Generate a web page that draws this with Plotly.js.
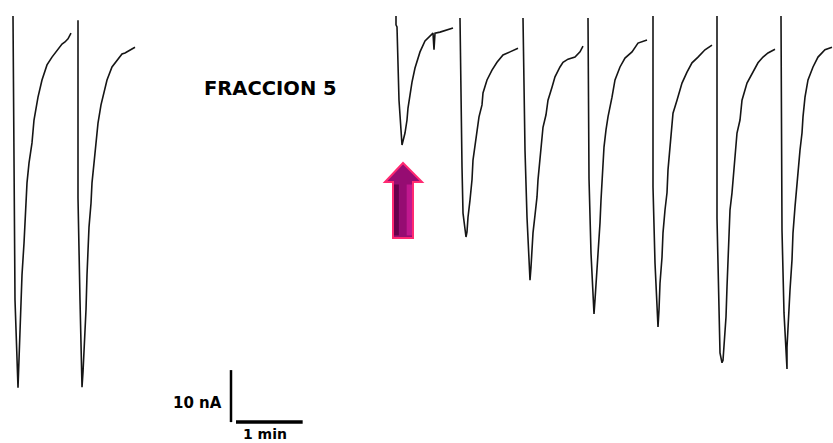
<!DOCTYPE html>
<html>
<head>
<meta charset="utf-8">
<script src="https://cdn.plot.ly/plotly-3.0.1.min.js"></script>
<style>html,body{margin:0;padding:0;background:#fff;}#chart{width:833px;height:443px;}</style>
</head>
<body>
<div id="chart"></div>
<script>
// Time in seconds, current in nA (baseline = 0, inward current negative)
const pulse1T = [11.7, 12.6, 13.5, 16.2, 17.1, 18.9, 19.8, 21.6, 23.4, 24.3, 26.1, 28.8, 30.6, 34.2, 37.8, 42.3, 46.8, 52.2, 55.8, 58.5, 61.2, 63.9];
const pulse1I = [0, -34.4, -54.6, -71.5, -66.2, -56.5, -49.8, -43.7, -37.3, -32.1, -28.3, -24.4, -20.0, -15.6, -12.3, -9.4, -7.9, -6.5, -5.4, -5.0, -4.4, -3.3];

const pulse2T = [70.2, 70.2, 72.0, 73.8, 74.7, 75.6, 77.4, 78.3, 79.2, 80.1, 81.9, 82.8, 84.6, 86.4, 88.2, 90.9, 92.7, 96.3, 100.8, 105.3, 109.8, 112.5, 117.0, 121.5];
const pulse2I = [-0.8, -35.0, -54.6, -71.4, -68.5, -65.2, -56.5, -49.8, -45.0, -40.6, -36.0, -32.1, -28.3, -24.4, -20.6, -17.1, -15.6, -12.3, -9.8, -8.5, -7.3, -7.1, -6.5, -6.0];

const pulse3T = [356.4, 356.4, 357.3, 359.1, 361.8, 362.7, 364.5, 366.3, 367.2, 369.0, 370.8, 373.5, 378.0, 382.5, 388.8, 389.7, 390.6, 391.5, 396.0, 402.3, 407.7];
const pulse3I = [0, -1.7, -2.1, -16.2, -24.8, -23.9, -22.5, -20.0, -17.7, -15.2, -12.7, -10.0, -6.9, -4.8, -3.5, -3.3, -6.5, -3.3, -3.1, -2.7, -2.3];

const pulse4T = [414.0, 414.9, 415.8, 416.7, 419.4, 420.3, 421.2, 423.0, 424.8, 425.7, 427.5, 429.3, 431.1, 433.8, 434.7, 438.3, 442.8, 447.3, 452.7, 459.0, 466.2];
const pulse4I = [-0.4, -18.1, -29.0, -37.9, -42.5, -41.5, -38.7, -35.4, -31.5, -27.7, -25.2, -22.5, -19.4, -17.1, -14.8, -12.3, -10.4, -8.9, -7.5, -6.9, -6.2];

const pulse5T = [470.7, 472.5, 474.3, 476.1, 477.0, 477.9, 478.8, 479.7, 481.5, 483.3, 484.2, 486.0, 487.8, 488.7, 491.4, 493.2, 496.8, 499.5, 504.0, 506.7, 511.2, 517.5, 522.0, 524.7];
const pulse5I = [-0.4, -25.8, -38.7, -48.3, -50.8, -48.3, -45.0, -41.7, -38.3, -34.8, -31.5, -27.7, -24.4, -21.4, -19.0, -16.2, -13.7, -11.7, -9.8, -8.9, -8.3, -7.9, -6.9, -5.8];

const pulse6T = [529.2, 530.1, 531.9, 534.6, 535.5, 537.3, 538.2, 540.0, 540.9, 542.7, 543.6, 545.4, 547.2, 550.8, 553.5, 558.0, 562.5, 568.8, 574.2, 582.3];
const pulse6I = [-0.4, -31.2, -45.6, -57.3, -54.6, -49.4, -45.0, -39.8, -35.4, -29.0, -25.2, -21.9, -19.4, -15.6, -12.3, -9.8, -8.1, -6.9, -5.2, -4.6];

const pulse7T = [587.7, 587.7, 589.5, 592.2, 593.1, 594.0, 595.8, 596.7, 598.5, 600.3, 601.2, 603.0, 604.8, 605.7, 609.3, 613.8, 618.3, 622.8, 628.2, 634.5, 640.8];
const pulse7I = [0, -32.9, -47.5, -59.8, -56.5, -51.4, -46.4, -41.7, -37.3, -34.0, -29.6, -25.8, -20.6, -18.7, -16.2, -12.9, -10.8, -9.0, -7.9, -6.5, -5.6];

const pulse8T = [645.3, 645.3, 648.0, 649.8, 650.7, 651.6, 653.4, 654.3, 655.2, 656.1, 657.0, 658.8, 660.6, 662.4, 663.3, 666.0, 667.8, 672.3, 676.8, 682.2, 686.7, 691.2, 697.5];
const pulse8I = [0, -38.9, -64.8, -66.7, -66.2, -62.9, -57.9, -52.1, -46.9, -41.7, -37.3, -34.0, -29.0, -25.8, -22.5, -20.0, -16.2, -12.9, -11.0, -9.0, -7.9, -7.1, -6.4];

const pulse9T = [702.9, 703.8, 705.6, 708.3, 708.3, 709.2, 711.0, 712.8, 713.7, 715.5, 717.3, 718.2, 720.0, 721.8, 722.7, 724.5, 727.2, 731.7, 736.2, 742.5, 748.8];
const pulse9I = [0, -41.2, -57.1, -67.9, -63.7, -59.0, -52.7, -46.9, -41.7, -36.7, -32.1, -29.0, -25.8, -22.5, -19.4, -15.6, -12.3, -9.8, -7.9, -6.5, -6.0];

// Scale bar sizes
const scaleCurrentNA = 10;   // nA
const scaleTimeS = 60;       // s (1 min)
const labels = {title: 'FRACCION 5', current: '10 nA', time: '1 min'};

const pulses = [
  [pulse1T, pulse1I], [pulse2T, pulse2I], [pulse3T, pulse3I],
  [pulse4T, pulse4I], [pulse5T, pulse5I], [pulse6T, pulse6I],
  [pulse7T, pulse7I], [pulse8T, pulse8I], [pulse9T, pulse9I]
];

const traces = pulses.map(p => ({
  x: p[0], y: p[1], type: 'scatter', mode: 'lines',
  line: {color: '#151515', width: 1.6}, hoverinfo: 'skip'
}));

// scale bar placement (layout)
const sbX = 207.9, sbY = -78.1;
traces.push({x: [sbX, sbX], y: [sbY + scaleCurrentNA, sbY], type: 'scatter', mode: 'lines',
  line: {color: '#000', width: 2.5}, hoverinfo: 'skip'});
traces.push({x: [sbX + 4.5, sbX + 4.5 + scaleTimeS], y: [sbY, sbY], type: 'scatter', mode: 'lines',
  line: {color: '#000', width: 3.5}, hoverinfo: 'skip'});

const arrowPath = 'M 353.7,-42.69 L 353.7,-31.92 L 346.5,-31.92 L 362.7,-28.27 L 379.8,-31.92 L 371.7,-31.92 L 371.7,-42.69 Z';

const layout = {
  width: 833, height: 443,
  margin: {l: 0, r: 0, t: 0, b: 0},
  paper_bgcolor: '#fff', plot_bgcolor: '#fff',
  showlegend: false,
  xaxis: {range: [0, 749.7], visible: false, fixedrange: true},
  yaxis: {range: [-82.12, 3.08], visible: false, fixedrange: true},
  shapes: [
    {type: 'path', xref: 'x', yref: 'y', path: arrowPath, fillcolor: '#960c72', line: {color: '#ff2a72', width: 2}},
    {type: 'rect', xref: 'x', yref: 'y', x0: 354.6, x1: 359.0, y0: -42.2, y1: -32.4, fillcolor: '#66004c', line: {width: 0}},
    {type: 'rect', xref: 'x', yref: 'y', x0: 366.0, x1: 370.8, y0: -42.2, y1: -32.4, fillcolor: '#c0188e', line: {width: 0}}
  ],
  annotations: [
    {x: 243, y: -13.85, xref: 'x', yref: 'y', text: '<b>' + labels.title + '</b>', showarrow: false,
     xanchor: 'center', yanchor: 'middle', font: {family: 'DejaVu Sans', size: 19.5, color: '#000'}},
    {x: 201.5, y: -74.4, xref: 'x', yref: 'y', text: '<b>' + labels.current + '</b>', showarrow: false,
     xanchor: 'right', yanchor: 'middle', font: {family: 'DejaVu Sans', size: 15, color: '#000'}},
    {x: 238.5, y: 0, xref: 'x', yref: 'paper', text: '<b>' + labels.time + '</b>', showarrow: false,
     xanchor: 'center', yanchor: 'bottom', borderpad: 0, font: {family: 'DejaVu Sans', size: 14, color: '#000'}}
  ]
};

Plotly.newPlot('chart', traces, layout, {displayModeBar: false, staticPlot: true});
</script>
</body>
</html>
